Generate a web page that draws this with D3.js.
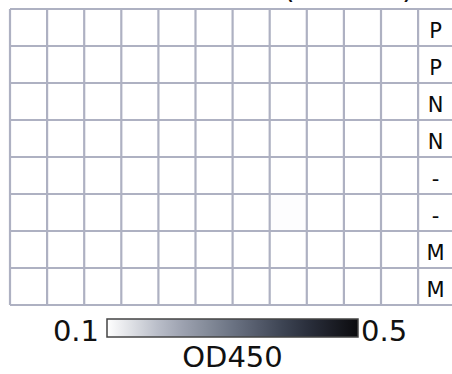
<!DOCTYPE html>
<html>
<head>
<meta charset="utf-8">
<script src="https://cdn.jsdelivr.net/npm/d3@7"></script>
<style>
  html, body { margin: 0; padding: 0; background: #fff; }
  svg { display: block; font-family: "DejaVu Sans", Verdana, sans-serif; }
</style>
</head>
<body>
<svg id="chart" width="452" height="374"></svg>
<script>
// plate columns 1..11, the 12th column holds the row label
const columns = ["1", "2", "3", "4", "5", "6", "7", "8", "9", "10", "11"];
const rowLabels = ["P", "P", "N", "N", "-", "-", "M", "M"];

// OD450 readings per row (all near background)
const row0 = [0.10, 0.10, 0.10, 0.10, 0.10, 0.10, 0.10, 0.10, 0.10, 0.10, 0.10];
const row1 = [0.10, 0.10, 0.10, 0.10, 0.10, 0.10, 0.10, 0.10, 0.10, 0.10, 0.10];
const row2 = [0.10, 0.10, 0.10, 0.10, 0.10, 0.10, 0.10, 0.10, 0.10, 0.10, 0.10];
const row3 = [0.10, 0.10, 0.10, 0.10, 0.10, 0.10, 0.10, 0.10, 0.10, 0.10, 0.10];
const row4 = [0.10, 0.10, 0.10, 0.10, 0.10, 0.10, 0.10, 0.10, 0.10, 0.10, 0.10];
const row5 = [0.10, 0.10, 0.10, 0.10, 0.10, 0.10, 0.10, 0.102, 0.10, 0.10, 0.10];
const row6 = [0.10, 0.10, 0.10, 0.10, 0.10, 0.10, 0.10, 0.10, 0.10, 0.10, 0.10];
const row7 = [0.10, 0.10, 0.10, 0.10, 0.10, 0.10, 0.10, 0.10, 0.10, 0.10, 0.10];
const values = [row0, row1, row2, row3, row4, row5, row6, row7];

const colorDomain = [0.1, 0.5];
const colorTicks = ["0.1", "0.5"];
const legendTitle = "OD450";

const svg = d3.select("#chart");

const gridLeft = 10, gridTop = 9, cellW = 37.1, cellH = 37;
const allCols = columns.concat(["label"]);

const x = d3.scaleBand()
    .domain(allCols)
    .range([gridLeft, gridLeft + cellW * allCols.length]);
const y = d3.scaleBand()
    .domain(d3.range(rowLabels.length))
    .range([gridTop, gridTop + cellH * rowLabels.length]);

const color = d3.scaleLinear()
    .domain([0.1, 0.2, 0.3, 0.4, 0.5])
    .range(["#ffffff", "#a9aebb", "#6b7383", "#323847", "#0b0b0e"])
    .clamp(true);

// title sits above the visible area, only the bracket tails show
svg.append("text").attr("x", 283).attr("y", -2)
    .attr("font-size", 30).attr("fill", "#111").text("(");
svg.append("text").attr("x", 402).attr("y", -2)
    .attr("font-size", 30).attr("fill", "#111").text(")");

// cells
const cells = [];
values.forEach((row, ri) => row.forEach((v, ci) => cells.push({ r: ri, c: columns[ci], v })));

svg.append("g")
    .selectAll("rect")
    .data(cells)
    .join("rect")
    .attr("x", d => x(d.c))
    .attr("y", d => y(d.r))
    .attr("width", x.bandwidth())
    .attr("height", y.bandwidth())
    .attr("fill", d => color(d.v));

// grid lines
const grid = svg.append("g").attr("stroke", "#aeb1c2").attr("stroke-width", 2.2);
allCols.forEach(c => {
    grid.append("line")
        .attr("x1", x(c)).attr("x2", x(c))
        .attr("y1", y.range()[0]).attr("y2", y.range()[1]);
});
d3.range(rowLabels.length + 1).forEach(i => {
    const yy = gridTop + i * y.step();
    grid.append("line")
        .attr("x1", gridLeft).attr("x2", x.range()[1])
        .attr("y1", yy).attr("y2", yy);
});

// row labels
svg.append("g")
    .selectAll("text")
    .data(rowLabels)
    .join("text")
    .attr("x", x("label") + x.bandwidth() / 2 - 1)
    .attr("y", (d, i) => y(i) + y.bandwidth() / 2 + 10)
    .attr("text-anchor", "middle")
    .attr("font-size", 21)
    .attr("fill", "#0a0a0a")
    .text(d => d);

// colour bar
const barX = d3.scaleLinear().domain(colorDomain).range([107, 358]);
const grad = svg.append("defs").append("linearGradient").attr("id", "cbar");
d3.range(0, 1.0001, 0.1).forEach(t => {
    grad.append("stop")
        .attr("offset", t)
        .attr("stop-color", color(colorDomain[0] + t * (colorDomain[1] - colorDomain[0])));
});
svg.append("rect")
    .attr("x", barX(colorDomain[0]))
    .attr("y", 319)
    .attr("width", barX(colorDomain[1]) - barX(colorDomain[0]))
    .attr("height", 18)
    .attr("fill", "url(#cbar)")
    .attr("stroke", "#444")
    .attr("stroke-width", 1.5);

svg.append("text")
    .attr("x", barX(colorDomain[0]) - 8).attr("y", 341)
    .attr("text-anchor", "end").attr("font-size", 29).attr("fill", "#111")
    .text(colorTicks[0]);
svg.append("text")
    .attr("x", barX(colorDomain[1]) + 3).attr("y", 341)
    .attr("text-anchor", "start").attr("font-size", 29).attr("fill", "#111")
    .text(colorTicks[1]);
svg.append("text")
    .attr("x", (barX.range()[0] + barX.range()[1]) / 2).attr("y", 367)
    .attr("text-anchor", "middle").attr("font-size", 29).attr("fill", "#111")
    .text(legendTitle);
</script>
</body>
</html>
